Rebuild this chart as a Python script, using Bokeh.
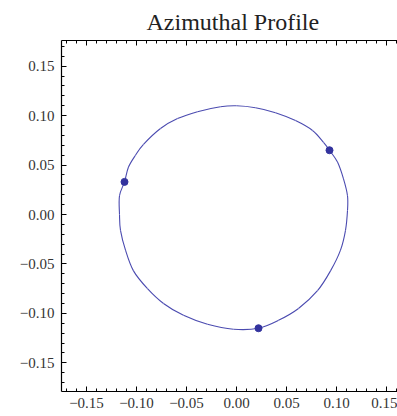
from bokeh.plotting import figure
from bokeh.models import (LinearAxis, SingleIntervalTicker, CustomJSTickFormatter,
                          Range1d)
from bokeh.embed import file_html
from bokeh.resources import INLINE

# Profile curve (closed, counterclockwise)
profile_x = [0.111, 0.111, 0.107, 0.101, 0.093, 0.087, 0.076, 0.059, 0.039, 0.019,
             0.000, -0.016, -0.039, -0.059, -0.076, -0.093, -0.101, -0.108, -0.112,
             -0.117, -0.117, -0.116, -0.111, -0.103, -0.089, -0.073, -0.053, -0.029,
             -0.003, 0.022, 0.042, 0.062, 0.081, 0.094, 0.104, 0.109]
profile_y = [0.004, 0.019, 0.036, 0.053, 0.065, 0.073, 0.085, 0.095, 0.103, 0.108,
             0.110, 0.109, 0.104, 0.097, 0.087, 0.071, 0.060, 0.048, 0.033,
             0.019, 0.000, -0.016, -0.036, -0.057, -0.075, -0.090, -0.102, -0.111,
             -0.116, -0.115, -0.107, -0.095, -0.077, -0.057, -0.036, -0.016]

# Marked sample points
point_x = [0.093, -0.112, 0.022]
point_y = [0.065, 0.033, -0.115]

title_text = "Azimuthal Profile"

p = figure(width=397, height=416, output_backend="svg", toolbar_location=None,
           x_range=Range1d(-0.175, 0.161), y_range=Range1d(-0.179, 0.176),
           x_axis_location=None, y_axis_location=None,
           min_border_left=61, min_border_right=0, min_border_top=40,
           min_border_bottom=25, title=title_text)
p.title.align = "left"
p.title.offset = 85
p.title.text_font = "Liberation Serif"
p.title.text_font_size = "24px"
p.title.text_font_style = "normal"
p.title.text_color = "#222222"
p.title.standoff = 11
p.outline_line_color = None
p.grid.visible = False
p.background_fill_color = "white"
p.border_fill_color = "white"

fmt = CustomJSTickFormatter(code="""
var t = Math.abs(tick) < 1e-9 ? 0 : tick;
return t.toFixed(2).replace('-', '\\u2212');
""")

def make_axis(labels=True):
    ax = LinearAxis(ticker=SingleIntervalTicker(interval=0.05, num_minor_ticks=5),
                    formatter=fmt)
    ax.major_tick_in = 5
    ax.major_tick_out = 0
    ax.minor_tick_in = 3
    ax.minor_tick_out = 0
    ax.axis_line_color = "black"
    ax.axis_line_width = 1.2
    ax.major_tick_line_color = "black"
    ax.minor_tick_line_color = "black"
    ax.major_label_text_font = "Liberation Serif"
    ax.major_label_text_font_size = "15px"
    ax.major_label_text_color = "#333333"
    ax.major_label_standoff = 7
    if not labels:
        ax.major_label_text_font_size = "0px"
        ax.major_label_text_color = None
        ax.major_label_standoff = 0
    return ax

p.add_layout(make_axis(), "left")
bx = make_axis()
bx.major_label_standoff = 6
p.add_layout(bx, "below")
p.add_layout(make_axis(labels=False), "above")

# Smooth closed curve through the read points (Catmull-Rom drawn as Bezier segments)
n = len(profile_x)
x0, y0, x1, y1, cx0, cy0, cx1, cy1 = [], [], [], [], [], [], [], []
for i in range(n):
    im, ip, ipp = (i - 1) % n, (i + 1) % n, (i + 2) % n
    x0.append(profile_x[i]); y0.append(profile_y[i])
    x1.append(profile_x[ip]); y1.append(profile_y[ip])
    cx0.append(profile_x[i] + (profile_x[ip] - profile_x[im]) / 6)
    cy0.append(profile_y[i] + (profile_y[ip] - profile_y[im]) / 6)
    cx1.append(profile_x[ip] - (profile_x[ipp] - profile_x[i]) / 6)
    cy1.append(profile_y[ip] - (profile_y[ipp] - profile_y[i]) / 6)
p.bezier(x0=x0, y0=y0, x1=x1, y1=y1, cx0=cx0, cy0=cy0, cx1=cx1, cy1=cy1,
         line_color="#4b4bb0", line_width=1.1)
p.scatter(point_x, point_y, size=7, fill_color="#33339e", line_color="#33339e")

open("out.html", "w").write(file_html(p, INLINE))
